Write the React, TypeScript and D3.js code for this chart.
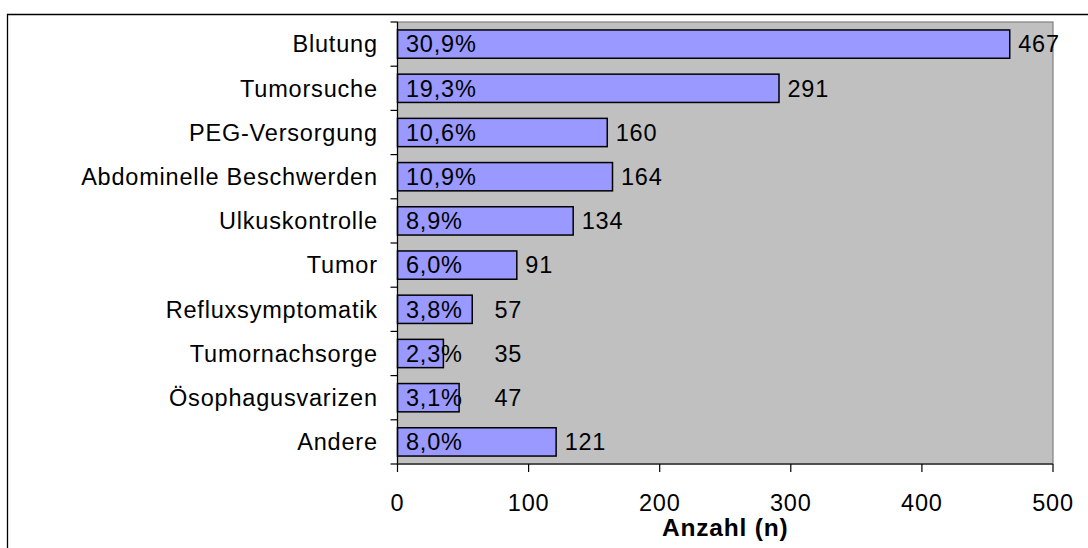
import React from "react";
import * as d3 from "d3";

const categories = [
  "Blutung",
  "Tumorsuche",
  "PEG-Versorgung",
  "Abdominelle Beschwerden",
  "Ulkuskontrolle",
  "Tumor",
  "Refluxsymptomatik",
  "Tumornachsorge",
  "Ösophagusvarizen",
  "Andere",
];
const counts = [467, 291, 160, 164, 134, 91, 57, 35, 47, 121];
const percents = ["30,9%", "19,3%", "10,6%", "10,9%", "8,9%", "6,0%", "3,8%", "2,3%", "3,1%", "8,0%"];
const xTicks = [0, 100, 200, 300, 400, 500];
const xTitle = "Anzahl (n)";

const W = 1088;
const H = 548;
const left = 397.5;
const right = 1053;
const top = 22;
const bottom = 464;
const font = "'Liberation Sans', Arial, sans-serif";
const fs = 23.5;
const ls = 0.8;

export default function App() {
  const x = d3.scaleLinear().domain([0, 500]).range([left, right]);
  const y = d3
    .scaleBand<string>()
    .domain(categories)
    .range([top, bottom])
    .paddingInner(0.36)
    .paddingOuter(0.18);
  const step = y.step();

  return (
    <svg
      width={W}
      height={H}
      style={{ position: "absolute", left: 0, top: 0 }}
      fontFamily={font}
    >
      <rect x={0} y={0} width={W} height={H} fill="#fff" />
      {/* outer chart border */}
      <path d={`M7.5,${H} V14.5 H${W}`} fill="none" stroke="#000" strokeWidth={1.3} />
      {/* plot area */}
      <rect x={left} y={top} width={right - left} height={bottom - top} fill="#C0C0C0" stroke="#808080" strokeWidth={1.2} />
      {/* bars */}
      {categories.map((c, i) => (
        <rect
          key={c}
          x={x(0)}
          y={y(c)!}
          width={x(counts[i]) - x(0)}
          height={y.bandwidth()}
          fill="#9999FF"
          stroke="#000"
          strokeWidth={1.5}
        />
      ))}
      {/* percent labels */}
      {categories.map((c, i) => (
        <text key={c + "p"} x={left + 8.5} y={y(c)! + y.bandwidth() / 2 + fs * 0.35} fontSize={fs} letterSpacing={ls} fill="#000">
          {percents[i]}
        </text>
      ))}
      {/* count labels */}
      {categories.map((c, i) => (
        <text
          key={c + "n"}
          x={Math.max(x(counts[i]) + 8.5, left + 97)}
          y={y(c)! + y.bandwidth() / 2 + fs * 0.35}
          fontSize={fs}
          letterSpacing={ls}
          fill="#000"
        >
          {counts[i]}
        </text>
      ))}
      {/* y axis */}
      <line x1={left} x2={left} y1={top} y2={bottom} stroke="#000" strokeWidth={1.2} />
      {d3.range(categories.length + 1).map((i) => (
        <line key={"yt" + i} x1={left - 7} x2={left} y1={top + i * step} y2={top + i * step} stroke="#000" strokeWidth={1.2} />
      ))}
      {categories.map((c) => (
        <text key={c + "l"} x={377 + ls} y={y(c)! + y.bandwidth() / 2 + fs * 0.35} fontSize={fs} letterSpacing={ls} textAnchor="end" fill="#000">
          {c}
        </text>
      ))}
      {/* x axis */}
      <line x1={left} x2={right} y1={bottom} y2={bottom} stroke="#333" strokeWidth={1.3} />
      {xTicks.map((t) => (
        <g key={"xt" + t}>
          <line x1={x(t)} x2={x(t)} y1={bottom} y2={bottom + 8} stroke="#000" strokeWidth={1.2} />
          <text x={x(t)} y={511} fontSize={fs} letterSpacing={ls} textAnchor="middle" fill="#000">
            {t}
          </text>
        </g>
      ))}
      <text x={(left + right) / 2} y={536} fontSize={24.5} letterSpacing={ls} fontWeight="bold" textAnchor="middle" fill="#000">
        {xTitle}
      </text>
    </svg>
  );
}
